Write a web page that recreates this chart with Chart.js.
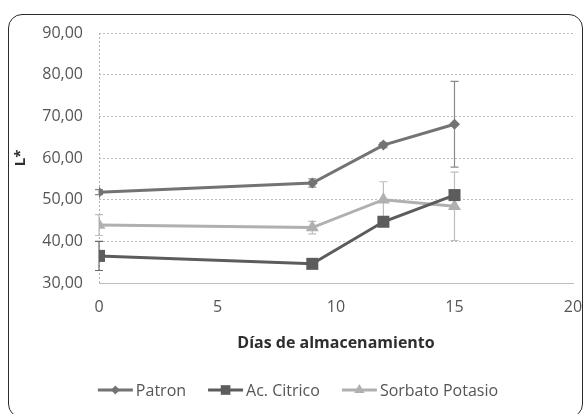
<!DOCTYPE html>
<html lang="es">
<head>
<meta charset="UTF-8">
<title>L* vs días de almacenamiento</title>
<script src="https://cdn.jsdelivr.net/npm/chart.js"></script>
<style>
    html, body {
        margin: 0;
        padding: 0;
        background: #ffffff;
    }
    .wrap {
        position: relative;
        width: 585px;
        height: 414px;
        overflow: hidden;
    }
    .frame {
        position: absolute;
        left: 8px;
        top: 14px;
        width: 573px;
        height: 402px;
        border: 1.5px solid #2b2b2b;
        border-radius: 14px;
        pointer-events: none;
    }
    canvas {
        position: absolute;
        left: 0;
        top: 0;
    }
</style>
</head>
<body>
<div class="wrap">
    <canvas id="chart" width="585" height="414"></canvas>
    <div class="frame"></div>
</div>
<script>
// data
const days = [0, 9, 12, 15];
const seriesNames = ['Patron', 'Ac. Citrico', 'Sorbato Potasio'];
const patron = [51.8, 54.0, 63.1, 68.1];
const patronErr = [0.6, 1.0, 0.6, 10.3];
const citrico = [36.5, 34.6, 44.7, 51.1];
const citricoErr = [3.5, 0.6, 0.8, 1.0];
const sorbato = [43.9, 43.3, 50.0, 48.4];
const sorbatoErr = [2.5, 1.5, 4.3, 8.2];
const xTicks = [0, 5, 10, 15, 20];
const yTicks = [30, 40, 50, 60, 70, 80, 90];

const FONT = "'Open Sans', sans-serif";
const colors = ['#737373', '#5c5c5c', '#b0b0b0'];
const errColors = ['#8a8a8a', '#6a6a6a', '#bdbdbd'];
const markers = ['rectRot', 'rect', 'triangle'];
const markerRadius = [5.5, 8.5, 7.5];

const toPoints = (vals) => vals.map((v, i) => ({ x: days[i], y: v }));

const makeDataset = (i, vals, errs) => ({
    label: seriesNames[i],
    data: toPoints(vals),
    errors: errs,
    borderColor: colors[i],
    backgroundColor: colors[i],
    borderWidth: 3,
    pointStyle: markers[i],
    pointRadius: markerRadius[i],
    pointBorderWidth: 0,
    fill: false,
    tension: 0
});

// vertical error bars with caps, drawn behind the lines
const errorBars = {
    id: 'errorBars',
    beforeDatasetsDraw(chart) {
        const { ctx } = chart;
        const yScale = chart.scales.y;
        chart.data.datasets.forEach((ds, di) => {
            const meta = chart.getDatasetMeta(di);
            ctx.save();
            ctx.strokeStyle = errColors[di];
            ctx.lineWidth = 1.2;
            meta.data.forEach((pt, i) => {
                const v = ds.data[i].y;
                const e = ds.errors[i];
                const top = yScale.getPixelForValue(v + e);
                const bot = yScale.getPixelForValue(v - e);
                ctx.beginPath();
                ctx.moveTo(pt.x, top);
                ctx.lineTo(pt.x, bot);
                ctx.moveTo(pt.x - 4, top);
                ctx.lineTo(pt.x + 4, top);
                ctx.moveTo(pt.x - 4, bot);
                ctx.lineTo(pt.x + 4, bot);
                ctx.stroke();
            });
            ctx.restore();
        });
    }
};

// Excel style legend: short line with the marker in its middle
const lineLegend = {
    id: 'lineLegend',
    afterDraw(chart) {
        const { ctx } = chart;
        const lineW = 35, gapText = 3, gapItem = 22;
        const y = 390;
        ctx.save();
        ctx.font = '16px ' + FONT;
        ctx.textBaseline = 'middle';
        const widths = seriesNames.map(n => ctx.measureText(n).width);
        const total = widths.reduce((a, w) => a + lineW + gapText + w, 0) + gapItem * (seriesNames.length - 1);
        let x = 298 - total / 2;
        seriesNames.forEach((name, i) => {
            ctx.strokeStyle = colors[i];
            ctx.lineWidth = 3;
            ctx.beginPath();
            ctx.moveTo(x, y);
            ctx.lineTo(x + lineW, y);
            ctx.stroke();
            ctx.fillStyle = colors[i];
            Chart.helpers.drawPoint(ctx, {
                pointStyle: markers[i],
                radius: markerRadius[i] * 0.8,
                borderWidth: 0
            }, x + lineW / 2, y);
            ctx.fillStyle = '#555555';
            ctx.fillText(name, x + lineW + gapText, y + 1);
            x += lineW + gapText + widths[i] + gapItem;
        });
        ctx.restore();
    }
};

new Chart(document.getElementById('chart'), {
    type: 'line',
    data: {
        datasets: [
            makeDataset(0, patron, patronErr),
            makeDataset(1, citrico, citricoErr),
            makeDataset(2, sorbato, sorbatoErr)
        ]
    },
    options: {
        responsive: false,
        animation: false,
        layout: {
            padding: { left: 0, right: 12, top: 33, bottom: 56 }
        },
        plugins: {
            legend: { display: false },
            tooltip: { enabled: false }
        },
        scales: {
            x: {
                type: 'linear',
                min: 0,
                max: 20,
                afterBuildTicks: (s) => { s.ticks = xTicks.map(v => ({ value: v })); },
                afterFit: (s) => {
                    s.height = 75;
                    s.paddingLeft = 0;
                    s.paddingRight = 0;
                },
                // only the line at x = 0 is shown, dotted like the value axis
                grid: {
                    drawTicks: false,
                    lineWidth: 1,
                    color: (c) => (c.tick && c.tick.value === 0 ? '#b0b0b0' : 'rgba(0,0,0,0)')
                },
                border: { display: true, color: '#bdbdbd', width: 1, dash: [2, 2] },
                ticks: {
                    padding: 15,
                    color: '#555555',
                    font: { family: FONT, size: 16 }
                },
                title: {
                    display: true,
                    text: 'Días de almacenamiento',
                    color: '#2e2e2e',
                    padding: { top: 0, bottom: 5 },
                    font: { family: FONT, size: 16, weight: 'bold' }
                }
            },
            y: {
                min: 30,
                max: 90,
                afterBuildTicks: (s) => { s.ticks = yTicks.map(v => ({ value: v })); },
                afterFit: (s) => { s.width = 99; },
                grid: {
                    color: '#bdbdbd',
                    lineWidth: 1,
                    drawTicks: false
                },
                border: { display: false, dash: [2, 2] },
                ticks: {
                    padding: 16,
                    color: '#555555',
                    font: { family: FONT, size: 16 },
                    callback: (v) => v.toFixed(2).replace('.', ',')
                },
                title: {
                    display: true,
                    text: 'L*',
                    color: '#2e2e2e',
                    padding: { top: 12, bottom: 0 },
                    font: { family: FONT, size: 15, weight: 'bold' }
                }
            }
        }
    },
    plugins: [errorBars, lineLegend]
});
</script>
</body>
</html>
